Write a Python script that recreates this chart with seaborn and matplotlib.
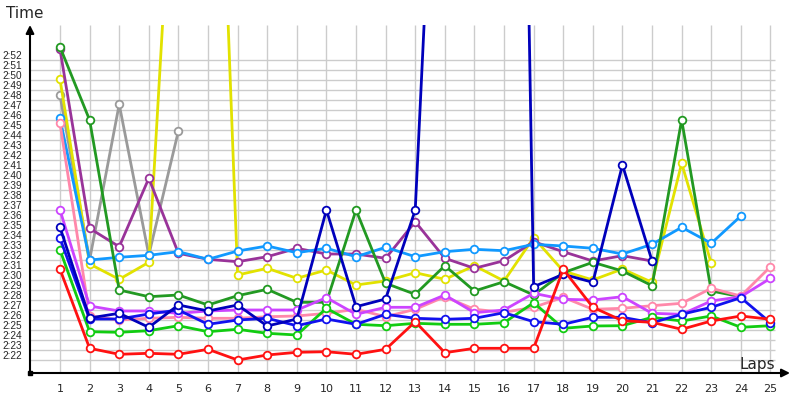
import numpy as np
import pandas as pd
import seaborn as sns
import matplotlib
matplotlib.use("Agg")
import matplotlib.pyplot as plt

# ---- data: lap times in seconds (2:22 = 142 s) ----
laps = list(range(1, 26))
lap_labels = [str(l) for l in laps]
ytick_values = list(range(142, 173))
ytick_labels = [f"{v // 60}:{v % 60:02d}" for v in ytick_values]

red = [151.07, 143.17, 142.57, 142.67, 142.57, 143.07, 142.0, 142.5, 142.77, 142.83,
       142.57, 143.07, 145.83, 142.73, 143.17, 143.17, 143.17, 151.07, 147.27, 145.93,
       145.77, 145.07, 145.9, 146.4, 146.07]
green = [153.0, 144.83, 144.77, 144.93, 145.43, 144.83, 145.07, 144.67, 144.5, 147.17,
         145.57, 145.43, 145.67, 145.57, 145.57, 145.73, 147.73, 145.17, 145.4, 145.43,
         146.27, 145.9, 146.4, 145.27, 145.43]
dark_green = [173.3, 166.0, 149.0, 148.33, 148.5, 147.5, 148.43, 149.07, 147.77, 147.77,
              157.0, 149.67, 148.57, 151.43, 148.9, 149.83, 148.5, 150.73, 151.77, 150.9,
              149.43, 166.0, 148.9, 148.33]
blue = [154.17, 146.1, 146.1, 146.6, 147.0, 145.57, 146.0, 146.17, 145.43, 146.1,
        145.57, 146.57, 146.17, 146.07, 146.17, 146.73, 145.83, 145.57, 146.27, 146.27,
        145.73, 146.57, 147.27, 148.23, 145.73]
navy = [155.27, 146.2, 146.67, 145.27, 147.5, 146.9, 147.5, 145.4, 146.1, 157.0,
        147.33, 148.1, 157.0, 219.0, 270.0, 321.0, 149.33, 150.57, 149.77, 161.5,
        151.9]
light_blue = [166.17, 152.0, 152.27, 152.47, 152.83, 152.07, 152.9, 153.4, 152.73, 153.17,
              152.33, 153.27, 152.33, 152.83, 153.07, 152.93, 153.57, 153.4, 153.17, 152.6,
              153.57, 155.27, 153.67, 156.4]
purple = [173.07, 155.17, 153.33, 160.17, 152.67, 152.07, 151.83, 152.33, 153.17, 152.6,
          152.6, 152.17, 155.83, 152.17, 151.17, 151.93, 153.83, 152.83, 151.9, 152.43,
          151.9]
magenta = [157.0, 147.4, 146.9, 146.9, 146.67, 146.9, 147.0, 147.0, 147.0, 148.23,
           146.57, 147.27, 147.27, 148.5, 146.73, 147.0, 148.67, 148.07, 148.0, 148.33,
           146.67, 146.57, 147.9, 148.33, 150.17]
pink = [165.67, 146.4, 146.0, 146.17, 146.27, 146.17, 146.17, 146.33, 146.4, 146.67,
        147.07, 146.33, 147.07, 148.33, 147.07, 146.77, 147.27, 148.27, 147.07, 147.17,
        147.43, 147.67, 149.17, 148.4, 151.33]
yellow = [170.07, 151.6, 150.07, 151.77, 203.0, 229.0, 150.5, 151.17, 150.17, 151.0,
          149.5, 149.9, 150.73, 150.07, 151.43, 149.9, 154.23, 150.9, 150.0, 151.1,
          149.77, 161.67, 151.67]
gray = [168.47, 152.0, 167.57, 152.5, 164.9]

series = [
    ("gray", gray, "#9a9a9a"),
    ("yellow", yellow, "#e2e200"),
    ("purple", purple, "#993399"),
    ("light_blue", light_blue, "#1199ff"),
    ("dark_green", dark_green, "#229922"),
    ("pink", pink, "#ff88aa"),
    ("magenta", magenta, "#cc44ff"),
    ("green", green, "#11cc11"),
    ("blue", blue, "#1111ee"),
    ("navy", navy, "#0000bb"),
    ("red", red, "#ff1111"),
]

sns.set_style("white")
fig = plt.figure(figsize=(8, 4), dpi=100)
ax = fig.add_axes([30 / 800, 1 - 373 / 400, 760 / 800, 348 / 400])

# grid
ax.vlines(laps, 140.7, 175.5, color="#cccccc", lw=1, zorder=0)
ax.hlines(ytick_values, 0, 25.15, color="#cccccc", lw=1, zorder=0)

for name, vals, col in series:
    df = pd.DataFrame({"lap": laps[:len(vals)], "time": vals})
    sns.lineplot(data=df, x="lap", y="time", ax=ax, color=col, lw=2,
                 marker="o", markersize=5.5, markerfacecolor="white",
                 markeredgecolor=col, markeredgewidth=1.3, zorder=3)

ax.set_xlim(-0.0135, 25.66)
ax.set_ylim(140.7, 175.5)
ax.set_xlabel("")
ax.set_ylabel("")
for s in ax.spines.values():
    s.set_visible(False)

ax.set_xticks(laps)
ax.set_xticklabels(lap_labels, fontsize=8, family="DejaVu Sans")
ax.set_yticks([v + 0.5 for v in ytick_values])
ax.set_yticklabels(ytick_labels, fontsize=7.2, family="Liberation Sans")
ax.tick_params(axis="both", length=0)
ax.tick_params(axis="x", pad=8)
ax.tick_params(axis="y", pad=6)

# axes with arrows
ax.annotate("", xy=(1.0, 0), xytext=(0, 0), xycoords="axes fraction",
            arrowprops=dict(arrowstyle="-|>", color="black", lw=1.5,
                            mutation_scale=12, shrinkA=0, shrinkB=0))
ax.annotate("", xy=(0, 1.0), xytext=(0, 0), xycoords="axes fraction",
            arrowprops=dict(arrowstyle="-|>", color="black", lw=1.5,
                            mutation_scale=12, shrinkA=0, shrinkB=0))
ax.plot([0], [0], marker="s", ms=3.5, color="black", transform=ax.transAxes,
        clip_on=False, zorder=5)

fig.text(6 / 800, 1 - 14 / 400, "Time", fontsize=11, va="center", ha="left")
fig.text(775 / 800, 1 - 365 / 400, "Laps", fontsize=11, va="center", ha="right")

fig.savefig("out.png", dpi=100)
